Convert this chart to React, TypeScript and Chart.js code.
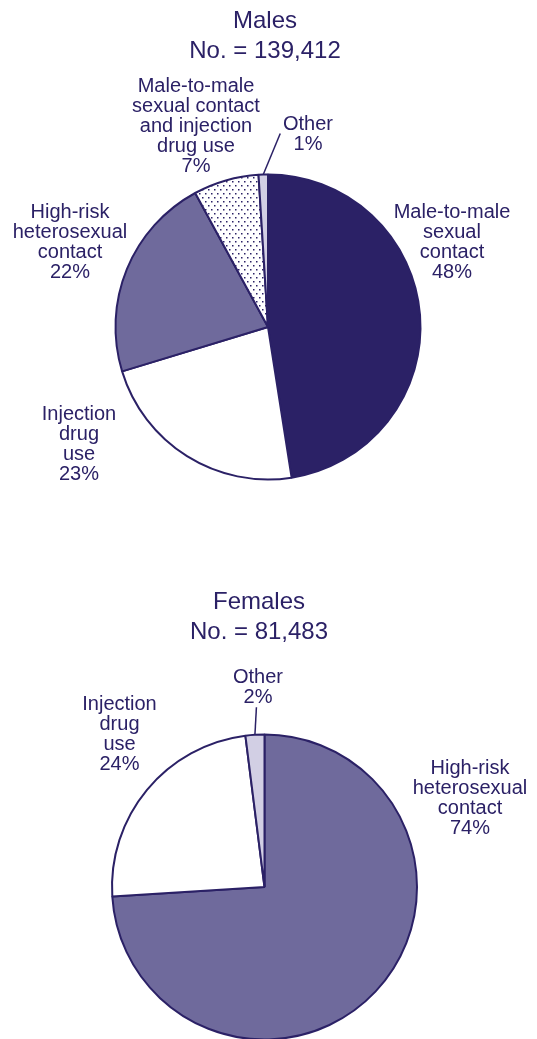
import React, { useEffect, useRef } from 'react';
import { Chart, registerables } from 'chart.js';

Chart.register(...registerables);

// ---------- data ----------
const maleTitle = 'Males';
const maleCount = '139,412';
const maleCategories = [
  'Male-to-male sexual contact',
  'Injection drug use',
  'High-risk heterosexual contact',
  'Male-to-male sexual contact and injection drug use',
  'Other',
];
const maleValues = [48, 23, 22, 7, 1];
const maleLabelLines = [
  ['Male-to-male', 'sexual', 'contact'],
  ['Injection', 'drug', 'use'],
  ['High-risk', 'heterosexual', 'contact'],
  ['Male-to-male', 'sexual contact', 'and injection', 'drug use'],
  ['Other'],
];

const femaleTitle = 'Females';
const femaleCount = '81,483';
const femaleCategories = ['High-risk heterosexual contact', 'Injection drug use', 'Other'];
const femaleValues = [74, 24, 2];
const femaleLabelLines = [
  ['High-risk', 'heterosexual', 'contact'],
  ['Injection', 'drug', 'use'],
  ['Other'],
];

// ---------- style ----------
const NAVY = '#2B2166';
const MID = '#6F6A9C';
const LIGHT = '#D2CFE4';
const WHITE = '#FFFFFF';
const FONT = '"Liberation Sans", Arial, Helvetica, sans-serif';

type PieLayout = {
  top: number;
  height: number;
  padding: { left: number; right: number; top: number; bottom: number };
  radius: number;
  colors: (string | 'dots')[];
  labelOffsets: [number, number][];
  leaderIndex: number;
  leaderEnd: [number, number];
  titleOffset: [number, number];
};

const maleLayout: PieLayout = {
  top: 0,
  height: 520,
  padding: { left: 115, right: 116, top: 174, bottom: 40 },
  radius: 152.5,
  colors: [NAVY, WHITE, MID, 'dots', LIGHT],
  labelOffsets: [
    [184, -115],
    [-189, 87],
    [-198, -115],
    [-72, -241],
    [40, -203],
  ],
  leaderIndex: 4,
  leaderEnd: [17, -41],
  titleOffset: [-3, -306],
};

const femaleLayout: PieLayout = {
  top: 520,
  height: 519,
  padding: { left: 150, right: 158, top: 300, bottom: 85 },
  radius: 152.5,
  colors: [MID, WHITE, LIGHT],
  labelOffsets: [
    [205.5, -119],
    [-145, -183],
    [-6.5, -210],
  ],
  leaderIndex: 2,
  leaderEnd: [1.5, -27.5],
  titleOffset: [-5.5, -285],
};

function makeDotPattern(ctx: CanvasRenderingContext2D) {
  const tile = document.createElement('canvas');
  tile.width = 6;
  tile.height = 8;
  const g = tile.getContext('2d')!;
  g.fillStyle = WHITE;
  g.fillRect(0, 0, 6, 8);
  g.fillStyle = NAVY;
  g.fillRect(1, 1, 1.5, 1.5);
  g.fillRect(4, 5, 1.5, 1.5);
  return ctx.createPattern(tile, 'repeat')!;
}

function PieBlock(props: {
  title: string;
  count: string;
  categories: string[];
  values: number[];
  lines: string[][];
  layout: PieLayout;
}) {
  const ref = useRef<HTMLCanvasElement | null>(null);
  const { title, count, categories, values, lines, layout } = props;

  useEffect(() => {
    const canvas = ref.current!;
    const ctx = canvas.getContext('2d')!;
    const bg = layout.colors.map((c) => (c === 'dots' ? makeDotPattern(ctx) : c));

    const labelPlugin = {
      id: 'pieLabels',
      afterDatasetsDraw(chart: any) {
        const meta = chart.getDatasetMeta(0);
        const arcs = meta.data;
        if (!arcs.length) return;
        const cx = arcs[0].x;
        const cy = arcs[0].y;
        const c = chart.ctx;
        c.save();
        c.fillStyle = NAVY;
        c.textAlign = 'center';
        c.textBaseline = 'middle';

        // titles
        c.font = `24px ${FONT}`;
        const [tdx, tdy] = layout.titleOffset;
        c.fillText(title, cx + tdx, cy + tdy);
        c.fillText(`No. = ${count}`, cx + tdx, cy + tdy + 30);

        // slice labels
        c.font = `20px ${FONT}`;
        values.forEach((v, i) => {
          const [dx, dy] = layout.labelOffsets[i];
          const textLines = [...lines[i], `${v}%`];
          textLines.forEach((t, j) => {
            c.fillText(t, cx + dx, cy + dy + j * 20);
          });
        });

        // leader line
        const a = arcs[layout.leaderIndex];
        const mid = (a.startAngle + a.endAngle) / 2;
        const ex = cx + Math.cos(mid) * a.outerRadius;
        const ey = cy + Math.sin(mid) * a.outerRadius;
        c.strokeStyle = NAVY;
        c.lineWidth = 1.5;
        c.beginPath();
        c.moveTo(ex, ey);
        c.lineTo(ex + layout.leaderEnd[0], ey + layout.leaderEnd[1]);
        c.stroke();
        c.restore();
      },
    };

    const chart = new Chart(canvas, {
      type: 'pie',
      data: {
        labels: categories,
        datasets: [
          {
            data: values,
            backgroundColor: bg as any,
            borderColor: NAVY,
            borderWidth: 2,
            radius: layout.radius,
            clip: false as any,
          } as any,
        ],
      },
      options: {
        responsive: false,
        animation: false,
        devicePixelRatio: 1,
        events: [],
        layout: { padding: layout.padding },
        plugins: {
          legend: { display: false },
          tooltip: { enabled: false },
          title: { display: false },
        },
      },
      plugins: [labelPlugin],
    });
    return () => chart.destroy();
  }, []);

  return (
    <canvas
      ref={ref}
      width={537}
      height={layout.height}
      style={{
        position: 'absolute',
        left: 0,
        top: layout.top,
        width: 537,
        height: layout.height,
        display: 'block',
      }}
    />
  );
}

export default function App() {
  return (
    <div
      style={{
        position: 'absolute',
        left: 0,
        top: 0,
        width: 537,
        height: 1039,
        overflow: 'hidden',
        background: '#FFFFFF',
      }}
    >
      <PieBlock
        title={maleTitle}
        count={maleCount}
        categories={maleCategories}
        values={maleValues}
        lines={maleLabelLines}
        layout={maleLayout}
      />
      <PieBlock
        title={femaleTitle}
        count={femaleCount}
        categories={femaleCategories}
        values={femaleValues}
        lines={femaleLabelLines}
        layout={femaleLayout}
      />
    </div>
  );
}
